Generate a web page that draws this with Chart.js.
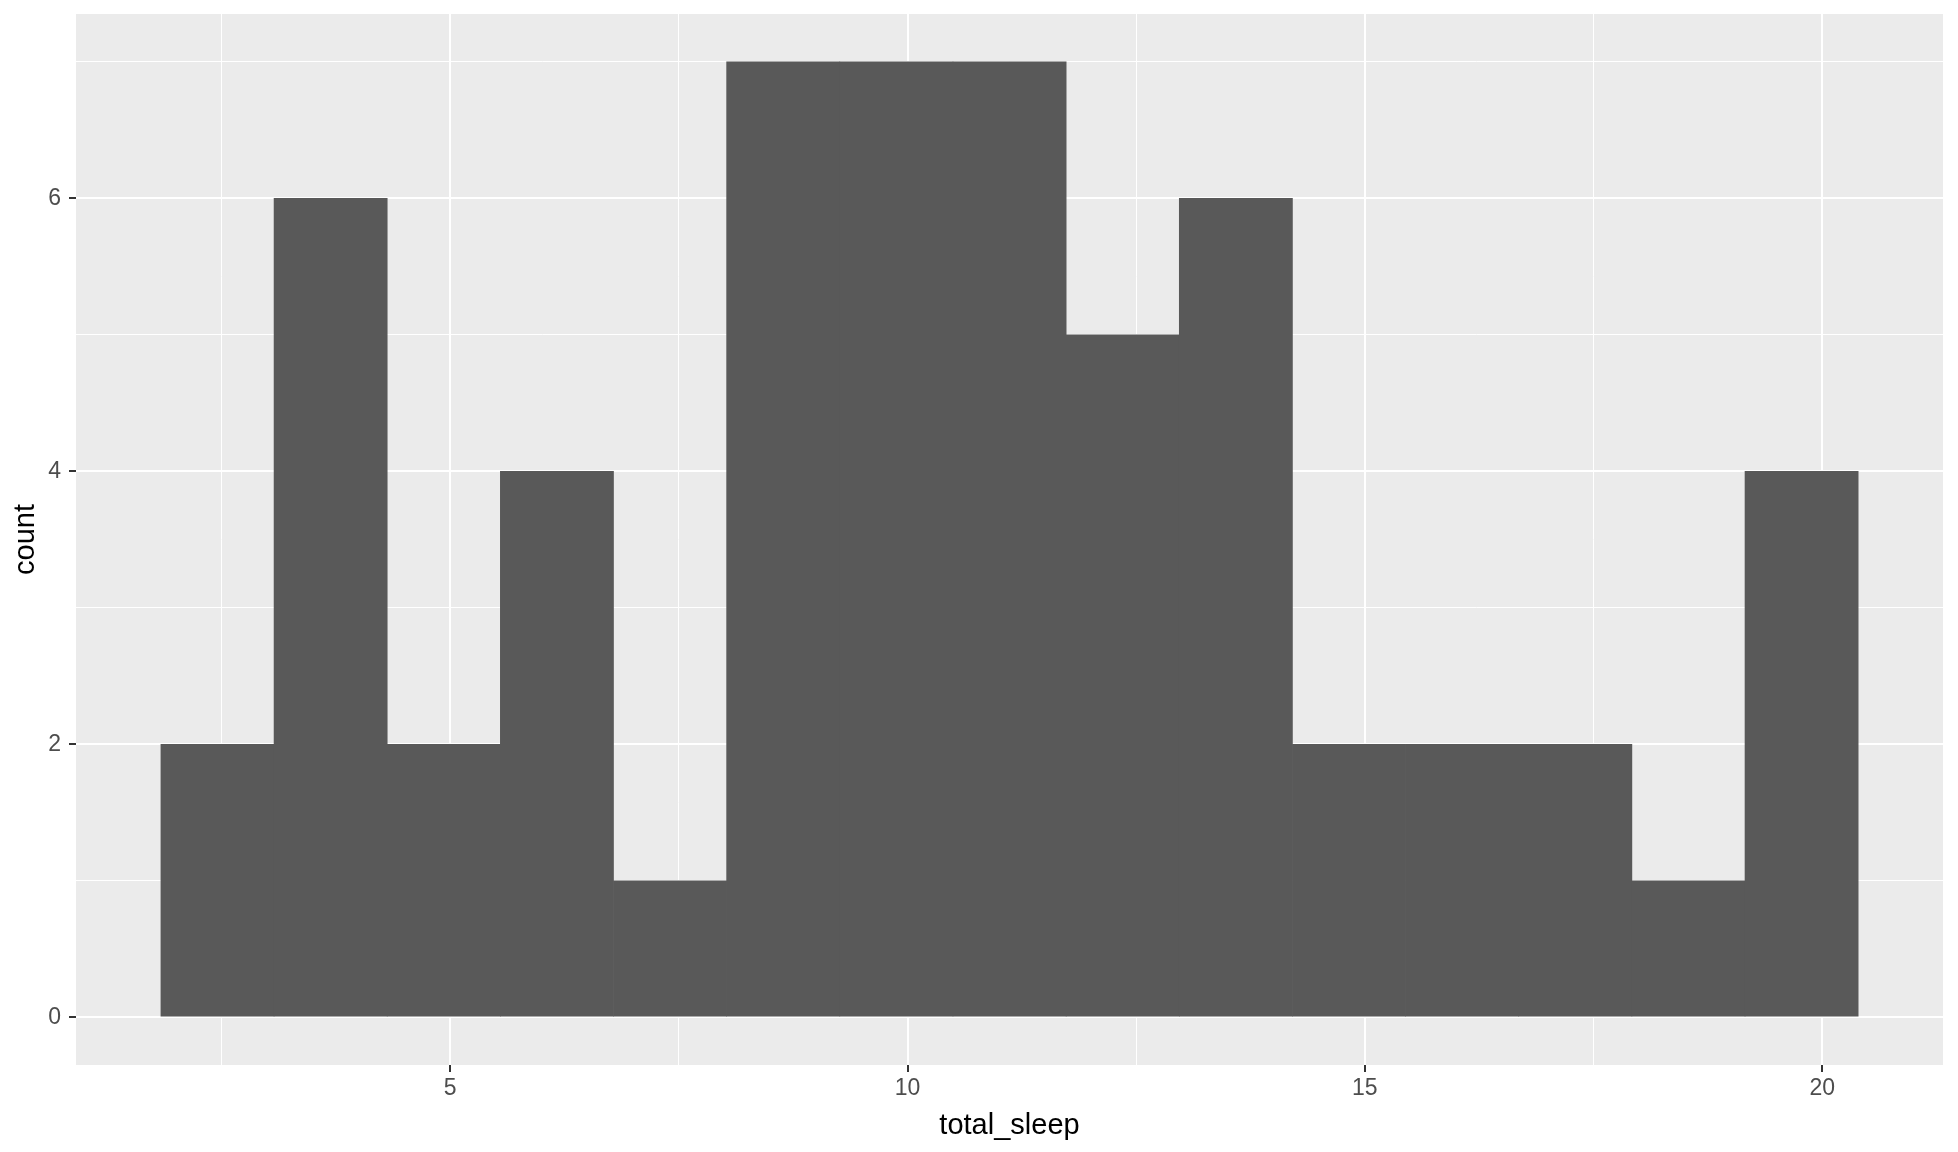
<!DOCTYPE html>
<html>
<head>
<meta charset="utf-8">
<script src="https://cdn.jsdelivr.net/npm/chart.js@4"></script>
<style>
  html, body { margin: 0; padding: 0; background: #ffffff; }
  #wrap { width: 1958px; height: 1152px; }
</style>
</head>
<body>
<div id="wrap"><canvas id="c" width="1958" height="1152"></canvas></div>
<script>
// Histogram bins (centres) and counts
const binCenters = [2.456, 3.693, 4.930, 6.167, 7.404, 8.641, 9.878, 11.116, 12.353, 13.590, 14.827, 16.064, 17.301, 18.538, 19.775];
const counts     = [2, 6, 2, 4, 1, 7, 7, 7, 5, 6, 2, 2, 2, 1, 4];

// Axis ticks
const xMajorTicks = [5, 10, 15, 20];
const xMinorTicks = [2.5, 7.5, 12.5, 17.5];
const yMajorTicks = [0, 2, 4, 6];
const yMinorTicks = [1, 3, 5, 7];

const xTitle = 'total_sleep';
const yTitle = 'count';

const points = binCenters.map((x, i) => ({ x: x, y: counts[i] }));

const panelBg = {
  id: 'panelBg',
  beforeDraw(chart) {
    const { ctx, chartArea: a } = chart;
    ctx.save();
    ctx.fillStyle = '#EBEBEB';
    ctx.fillRect(a.left, a.top, a.right - a.left, a.bottom - a.top);
    ctx.restore();
  }
};

const isMajor = (list, v) => list.some(t => Math.abs(t - v) < 1e-9);
const tickIsMajor = (list, ctx) => !!(ctx && ctx.tick && isMajor(list, ctx.tick.value));

new Chart(document.getElementById('c'), {
  type: 'bar',
  data: {
    datasets: [{
      data: points,
      backgroundColor: '#595959',
      borderColor: '#595959',
      borderWidth: 0,
      barPercentage: 1.0,
      categoryPercentage: 1.0
    }]
  },
  options: {
    responsive: false,
    animation: false,
    events: [],
    layout: { padding: { left: 0, top: 14, right: 15, bottom: 0 } },
    plugins: { legend: { display: false }, tooltip: { enabled: false } },
    scales: {
      x: {
        type: 'linear',
        min: 0.909,
        max: 21.321,
        offset: false,
        afterBuildTicks(scale) {
          scale.ticks = xMinorTicks.concat(xMajorTicks).sort((a, b) => a - b).map(v => ({ value: v }));
        },
        afterFit(scale) {
          scale.height = 87;
          scale.paddingLeft = 0; scale.paddingRight = 0;
          scale.paddingTop = 0; scale.paddingBottom = 0;
        },
        border: { display: false },
        grid: {
          offset: false,
          color: '#FFFFFF',
          lineWidth: (ctx) => tickIsMajor(xMajorTicks, ctx) ? 2 : 1,
          drawTicks: true,
          tickLength: 7,
          tickWidth: (ctx) => tickIsMajor(xMajorTicks, ctx) ? 2 : 0.001,
          tickColor: (ctx) => tickIsMajor(xMajorTicks, ctx) ? '#333333' : 'rgba(0,0,0,0)'
        },
        ticks: {
          autoSkip: false,
          maxRotation: 0,
          minRotation: 0,
          padding: 3,
          color: '#4D4D4D',
          font: { family: 'Liberation Sans, Arial, sans-serif', size: 23 },
          callback: (v) => isMajor(xMajorTicks, v) ? String(v) : ''
        },
        title: {
          display: true,
          text: xTitle,
          color: '#000000',
          font: { family: 'Liberation Sans, Arial, sans-serif', size: 29 },
          padding: { top: 0, bottom: 9 }
        }
      },
      y: {
        type: 'linear',
        min: -0.35,
        max: 7.35,
        afterBuildTicks(scale) {
          scale.ticks = yMajorTicks.concat(yMinorTicks).sort((a, b) => a - b).map(v => ({ value: v }));
        },
        afterFit(scale) {
          scale.width = 76;
          scale.paddingLeft = 0; scale.paddingRight = 0;
          scale.paddingTop = 0; scale.paddingBottom = 0;
        },
        border: { display: false },
        grid: {
          color: '#FFFFFF',
          lineWidth: (ctx) => tickIsMajor(yMajorTicks, ctx) ? 2 : 1,
          drawTicks: true,
          tickLength: 7,
          tickWidth: (ctx) => tickIsMajor(yMajorTicks, ctx) ? 2 : 0.001,
          tickColor: (ctx) => tickIsMajor(yMajorTicks, ctx) ? '#333333' : 'rgba(0,0,0,0)'
        },
        ticks: {
          autoSkip: false,
          padding: 8,
          color: '#4D4D4D',
          font: { family: 'Liberation Sans, Arial, sans-serif', size: 23 },
          callback: (v) => isMajor(yMajorTicks, v) ? String(v) : ''
        },
        title: {
          display: true,
          text: yTitle,
          color: '#000000',
          font: { family: 'Liberation Sans, Arial, sans-serif', size: 29 },
          padding: { top: 9, bottom: 0 }
        }
      }
    }
  },
  plugins: [panelBg]
});
</script>
</body>
</html>
